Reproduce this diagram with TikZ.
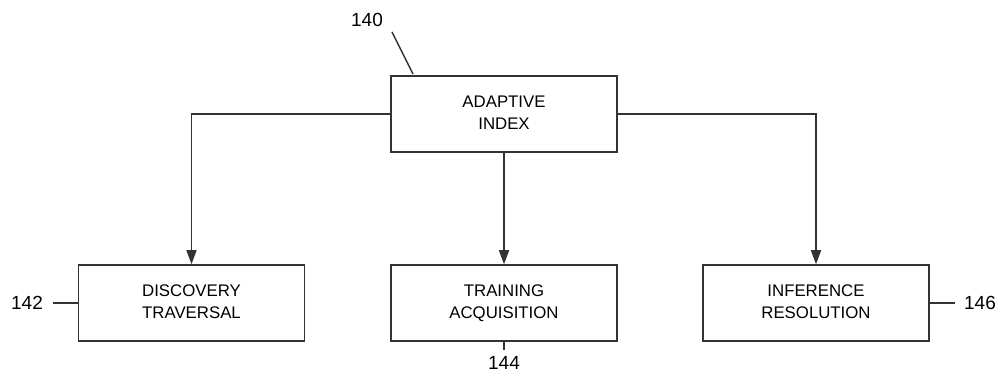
\documentclass[tikz,border=0pt]{standalone}
\usepackage{fontspec}
\setmainfont{Liberation Sans}
\usetikzlibrary{arrows.meta}
\begin{document}
\begin{tikzpicture}[x=1pt,y=-1pt,
  box/.style={draw=black!80,line width=1.5pt,minimum width=226pt,minimum height=76pt,inner sep=0pt,align=center,text depth=3pt,font=\fontsize{16.8}{22}\selectfont},
  num/.style={font=\fontsize{19}{22}\selectfont,inner sep=0pt},
  conn/.style={draw=black!80,line width=1.5pt},
  arr/.style={conn,-{Triangle[length=14pt,width=10pt]}}]
\useasboundingbox (0,0) rectangle (1006,379);
\node[box] (ai) at (504,114) {ADAPTIVE\\INDEX};
\node[box] (dt) at (191.5,303) {DISCOVERY\\TRAVERSAL};
\node[box] (ta) at (504,303) {TRAINING\\ACQUISITION};
\node[box] (ir) at (816,303) {INFERENCE\\RESOLUTION};
\draw[arr] (ai.west) -| (dt.north);
\draw[arr] (ai.south) -- (ta.north);
\draw[arr] (ai.east) -| (ir.north);
\node[num] (n140) at (367,20) {140};
\coordinate (c140a) at (392,32);
\coordinate (c140b) at (413,74);
\draw[conn] (c140a) -- (c140b);
\node[num] (n142) at (27,303) {142};
\coordinate (c142) at (53,303);
\draw[conn] (c142) -- (dt.west);
\node[num] (n146) at (980,303) {146};
\coordinate (c146) at (955,303);
\draw[conn] (ir.east) -- (c146);
\node[num] (n144) at (504,363) {144};
\coordinate (c144) at (504,350);
\draw[conn] (ta.south) -- (c144);
\end{tikzpicture}
\end{document}
